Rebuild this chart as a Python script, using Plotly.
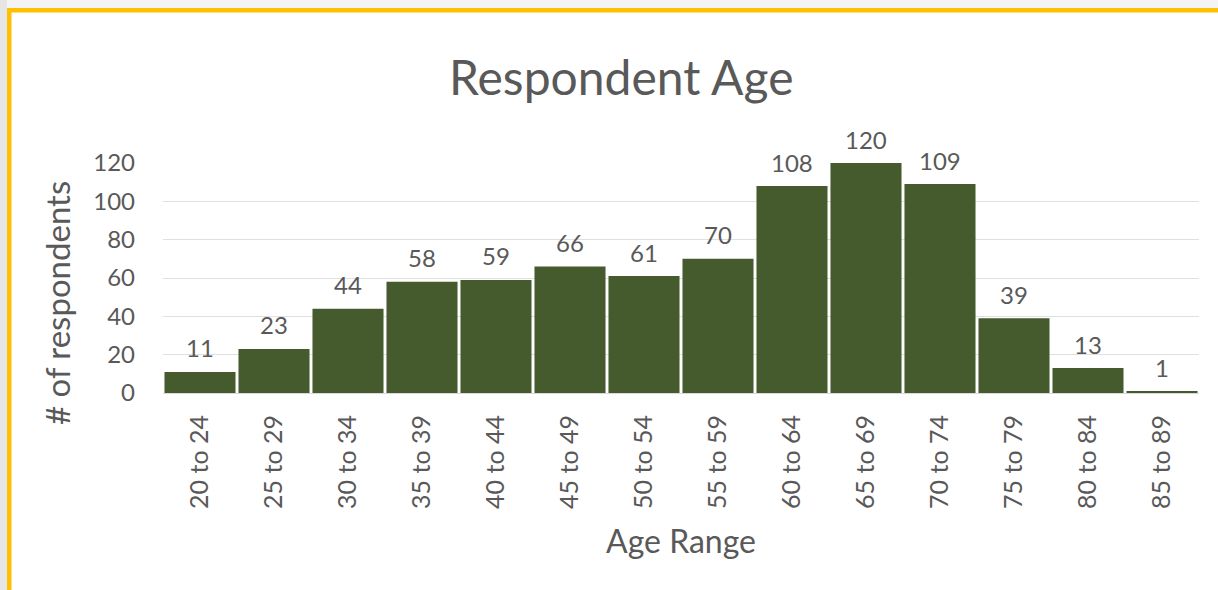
import plotly.graph_objects as go

age_ranges = [
    "20 to 24", "25 to 29", "30 to 34", "35 to 39", "40 to 44", "45 to 49", "50 to 54",
    "55 to 59", "60 to 64", "65 to 69", "70 to 74", "75 to 79", "80 to 84", "85 to 89",
]
respondents = [11, 23, 44, 58, 59, 66, 61, 70, 108, 120, 109, 39, 13, 1]
y_ticks = [0, 20, 40, 60, 80, 100, 120]

W, H = 1218, 590
L, R, T, B = 163, 19, 163, 197
text_color = "#595959"
bar_color = "#465B2D"
gold = "#FFC000"
font_family = "Lato, 'Open Sans', sans-serif"


def px_x(px):
    return (px - L) / (W - L - R)


def px_y(py):
    return (H - B - py) / (H - T - B)


fig = go.Figure()
fig.add_trace(
    go.Bar(
        x=age_ranges,
        y=respondents,
        marker=dict(color=bar_color, line=dict(width=0)),
        hoverinfo="x+y",
    )
)

shapes = [
    # window chrome around the selected chart frame
    dict(type="rect", xref="paper", yref="paper", x0=px_x(0), x1=px_x(W), y0=px_y(0), y1=px_y(8),
         fillcolor="#f4f4f4", line=dict(width=0), layer="below"),
    dict(type="rect", xref="paper", yref="paper", x0=px_x(0), x1=px_x(7), y0=px_y(0), y1=px_y(H),
         fillcolor="#e6e6e6", line=dict(width=0), layer="below"),
    dict(type="rect", xref="paper", yref="paper", x0=px_x(7), x1=px_x(W), y0=px_y(8), y1=px_y(12.5),
         fillcolor=gold, line=dict(width=0)),
    dict(type="rect", xref="paper", yref="paper", x0=px_x(7), x1=px_x(11.5), y0=px_y(8), y1=px_y(H),
         fillcolor=gold, line=dict(width=0)),
]

annotations = [
    dict(text="Respondent Age", xref="paper", yref="paper", x=px_x(621), y=px_y(77),
         xanchor="center", yanchor="middle",
         showarrow=False, font=dict(family=font_family, size=48, color=text_color)),
    dict(text="# of respondents", xref="paper", yref="paper", x=px_x(57), y=px_y(303),
         xanchor="center", yanchor="middle",
         textangle=-90, showarrow=False, font=dict(family=font_family, size=33, color=text_color)),
    dict(text="Age Range", xref="paper", yref="paper", x=px_x(681), y=px_y(540),
         xanchor="center", yanchor="middle",
         showarrow=False, font=dict(family=font_family, size=32, color=text_color)),
]

# data labels above each bar
for cat, val in zip(age_ranges, respondents):
    annotations.append(
        dict(
            x=cat,
            y=val,
            xref="x",
            yref="y",
            text=str(val),
            showarrow=False,
            xanchor="center",
            yanchor="middle",
            yshift=24,
            font=dict(family=font_family, size=24, color=text_color),
        )
    )

fig.update_layout(
    width=W,
    height=H,
    margin=dict(l=L, r=R, t=T, b=B),
    paper_bgcolor="white",
    plot_bgcolor="white",
    bargap=0.04,
    showlegend=False,
    shapes=shapes,
    annotations=annotations,
    xaxis=dict(
        tickangle=-90,
        tickfont=dict(family=font_family, size=25, color=text_color),
        showline=True,
        linecolor="#d9d9d9",
        linewidth=1,
        ticks="",
        ticklabelstandoff=11,
    ),
    yaxis=dict(
        range=[0, 120],
        tickvals=y_ticks,
        tickfont=dict(family=font_family, size=24, color=text_color),
        showgrid=True,
        gridcolor="#e0e0e0",
        gridwidth=1,
        zeroline=False,
        showline=False,
        ticks="",
        ticklabelstandoff=27,
    ),
)

fig.write_html(
    "out.html",
    config={"displayModeBar": False},
    post_script="document.body.style.margin='0';",
)
